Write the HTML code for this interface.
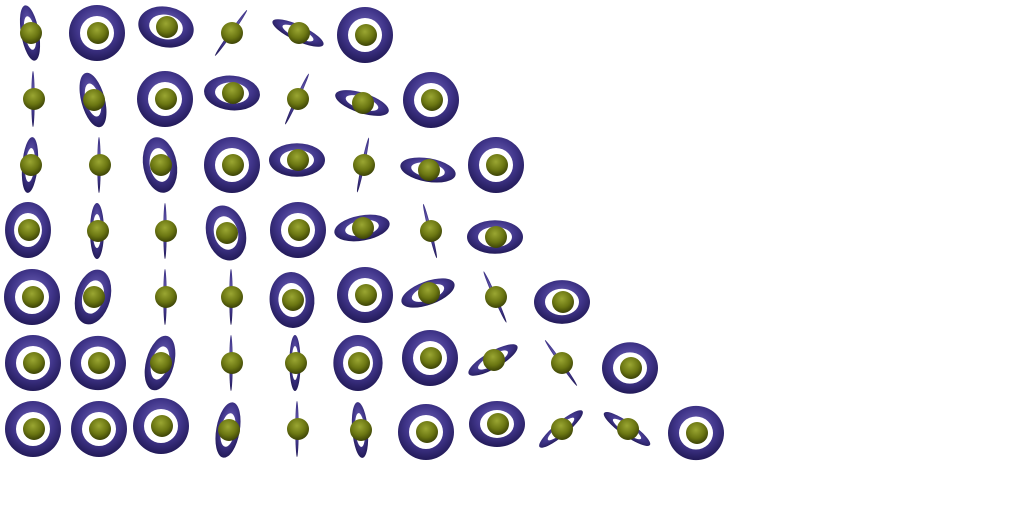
<!DOCTYPE html>
<html><head><meta charset="utf-8"><style>
html,body{margin:0;padding:0;background:#fff;width:1024px;height:512px;overflow:hidden}
</style></head><body>
<svg id="scene" width="1024" height="512" viewBox="0 0 1024 512" xmlns="http://www.w3.org/2000/svg">
<defs>
<radialGradient id="ringGrad" cx="50%" cy="40%" r="60%">
<stop offset="0" stop-color="#7468bb"/><stop offset="0.6" stop-color="#40358a"/><stop offset="1" stop-color="#221a58"/>
</radialGradient>
<radialGradient id="ballGrad" cx="45%" cy="35%" r="65%">
<stop offset="0" stop-color="#9aa632"/><stop offset="0.6" stop-color="#6b7612"/><stop offset="1" stop-color="#3c4306"/>
</radialGradient>
</defs>
</svg>
<script>
// each cell: column index, row index, x scale, y scale, tilt (deg), offset x, offset y
const rows = [0,0,0,0,0,0, 1,1,1,1,1,1,1, 2,2,2,2,2,2,2,2, 3,3,3,3,3,3,3,3, 4,4,4,4,4,4,4,4,4, 5,5,5,5,5,5,5,5,5,5, 6,6,6,6,6,6,6,6,6,6,6];
const cols = [0,1,2,3,4,5, 0,1,2,3,4,5,6, 0,1,2,3,4,5,6,7, 0,1,2,3,4,5,6,7, 0,1,2,3,4,5,6,7,8, 0,1,2,3,4,5,6,7,8,9, 0,1,2,3,4,5,6,7,8,9,10];
const sx = [0.32,1,1,0.06,1,1, 0.06,0.42,1,1,0.06,1,1, 0.28,0.06,0.6,1,1,0.06,1,1, 0.82,0.25,0.06,0.7,1,1,0.06,1, 1,0.62,0.06,0.06,0.8,1,1,0.06,1, 1,1,0.5,0.06,0.2,0.88,1,1,0.06,1, 1,1,1,0.42,0.06,0.28,1,1,1,1,1];
const sy = [1,1,0.72,1,0.28,1, 1,1,1,0.62,1,0.36,1, 1,1,1,1,0.6,1,0.42,1, 1,1,1,1,1,0.45,1,0.6, 1,1,1,1,1,1,0.42,1,0.78, 1,0.97,1,1,1,1,1,0.3,1,0.92, 1,1,1,1,1,1,1,0.82,0.24,0.24,0.97];
const tilt = [-10,0,12,35,25,0, 0,-15,0,5,25,18,0, 5,0,-10,0,0,12,10,0, 0,0,0,-15,0,-10,-14,0, 0,15,0,0,-5,0,-20,-24,0, 0,0,15,0,0,0,0,-30,-35,0, 0,0,0,10,0,-5,0,0,-40,35,0];
const dx = [-3,-2,1,0,1,2, 0,-6,0,1,0,-1,2, -3,0,-5,1,0,0,-1,1, -5,-2,0,-5,1,-1,1,0, -1,-6,0,0,-5,2,-1,0,1, 0,-1,-5,0,-2,-5,1,-2,0,3, 0,0,-4,-3,0,-3,-3,2,0,0,3];
const dy = [0,0,-6,0,0,2, 0,1,0,-6,0,4,1, 0,0,0,0,-5,0,5,0, -1,0,0,2,-1,-3,0,6, 0,0,0,0,3,-2,-4,0,5, 0,0,0,0,0,0,-5,-3,0,5, 0,0,-3,1,0,1,3,-5,0,0,4];
const svg = document.getElementById('scene');
const NS = 'http://www.w3.org/2000/svg';
function ell(rx, ry){
  return `M ${-rx} 0 A ${rx} ${ry} 0 1 0 ${rx} 0 A ${rx} ${ry} 0 1 0 ${-rx} 0 Z`;
}
for (let i = 0; i < rows.length; i++) {
  const cx = 33 + cols[i]*66 + dx[i], cy = 33 + rows[i]*66 + dy[i];
  const g = document.createElementNS(NS, 'g');
  
  
  g.setAttribute('transform', `translate(${cx},${cy})`);
  const ring = document.createElementNS(NS, 'path');
  
  
  const R = 28, r = 17;
  const ox = Math.max(R*sx[i], 1.5), oy = Math.max(R*sy[i], 1.5);
  let d = ell(ox, oy);
  if (sx[i] > 0.1 && sy[i] > 0.1) d += ' ' + ell(r*sx[i], r*sy[i]);
  ring.setAttribute('d', d);
  ring.setAttribute('fill-rule', 'evenodd');
  ring.setAttribute('fill', 'url(#ringGrad)');
  ring.setAttribute('transform', `rotate(${tilt[i]})`);
  g.appendChild(ring);
  const ball = document.createElementNS(NS, 'circle');
  
  
  ball.setAttribute('cx', 1); ball.setAttribute('cy', 0); ball.setAttribute('r', 11);
  ball.setAttribute('fill', 'url(#ballGrad)');
  g.appendChild(ball);
  svg.appendChild(g);
}
</script>
</body></html>
